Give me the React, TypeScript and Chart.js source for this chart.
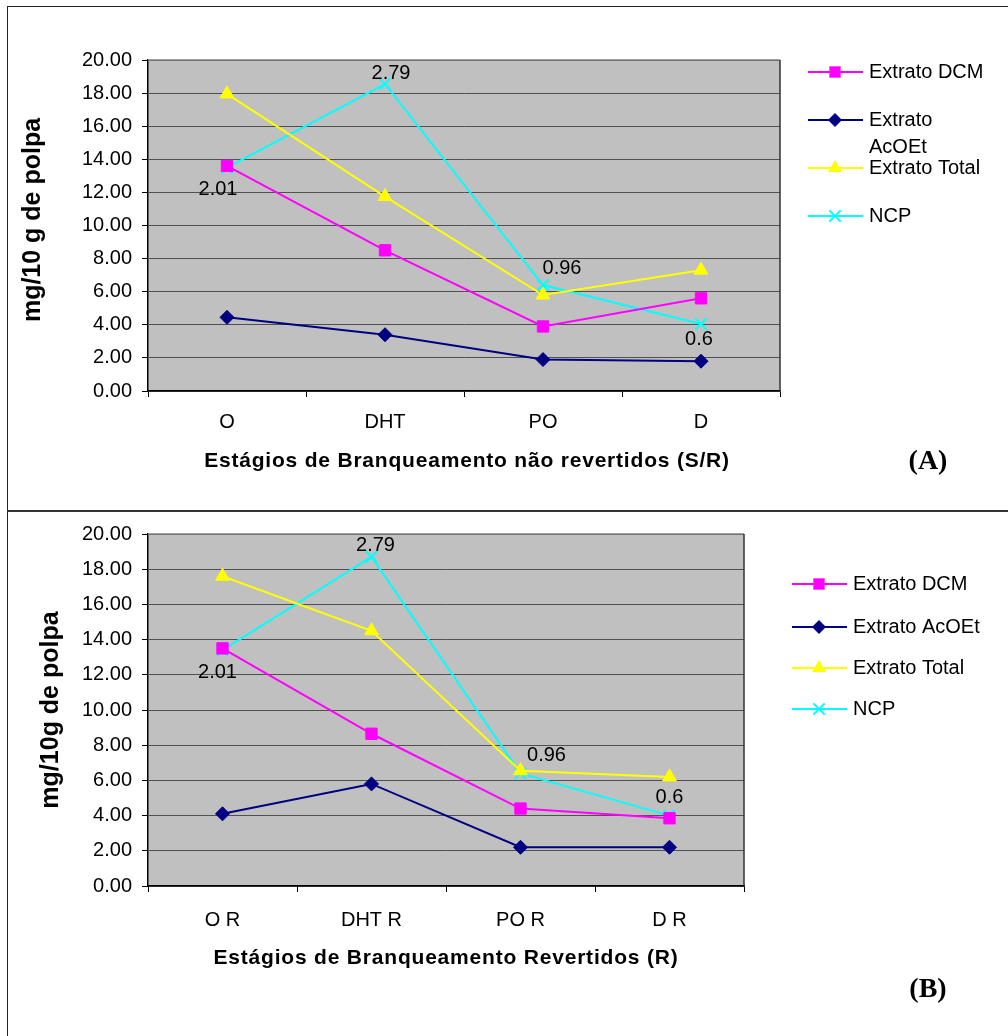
import { useEffect, useRef } from 'react';
import { Chart, registerables } from 'chart.js';

Chart.register(...registerables);

// ---- data ----
const seriesNames = ['Extrato DCM', 'Extrato AcOEt', 'Extrato Total', 'NCP'];
const seriesColors = ['#FF00FF', '#000080', '#FFFF00', '#00FFFF'];
const pointStyles = ['rect', 'rectRot', 'triangle', 'crossRot'];
const pointRadii = [8, 7, 8, 8];

const stagesA = ['O', 'DHT', 'PO', 'D'];
const dcmA = [13.6, 8.5, 3.9, 5.6];
const acoetA = [4.45, 3.4, 1.9, 1.8];
const totalA = [17.95, 11.75, 5.8, 7.3];
const ncpA = [13.5, 18.55, 6.4, 4.05];
const ncpNotesA = ['2.01', '2.79', '0.96', '0.6'];

const stagesB = ['O R', 'DHT R', 'PO R', 'D R'];
const dcmB = [13.5, 8.65, 4.4, 3.85];
const acoetB = [4.1, 5.8, 2.2, 2.2];
const totalB = [17.6, 14.5, 6.55, 6.2];
const ncpB = [13.4, 18.7, 6.4, 4.0];
const ncpNotesB = ['2.01', '2.79', '0.96', '0.6'];

const yMin = 0;
const yMax = 20;
const yStep = 2;

const W = 1008;
const FONT = '"Liberation Sans", Arial, sans-serif';
const SERIF = '"Liberation Serif", "Times New Roman", serif';

type PanelCfg = {
  top: number;
  height: number;
  stages: string[];
  series: number[][];
  notes: string[];
  noteOffsets: [number, number][];
  plot: { left: number; top: number; right: number; bottom: number };
  catPadding: number;
  xTitle: string;
  xTitleX: number;
  xTitleY: number;
  yTitle: string;
  yTitleX: number;
  yTitleY: number;
  tag: string;
  tagX: number;
  tagY: number;
  legend: { x1: number; x2: number; mx: number; tx: number; rows: number[]; wrap: number; lineGap: number };
};

function drawMarker(ctx: CanvasRenderingContext2D, style: string, x: number, y: number, r: number, color: string) {
  ctx.save();
  ctx.fillStyle = color;
  ctx.strokeStyle = color;
  ctx.lineWidth = 2;
  ctx.beginPath();
  if (style === 'rect') {
    const s = r * Math.SQRT1_2;
    ctx.rect(x - s, y - s, 2 * s, 2 * s);
    ctx.fill();
  } else if (style === 'rectRot') {
    ctx.moveTo(x, y - r);
    ctx.lineTo(x + r, y);
    ctx.lineTo(x, y + r);
    ctx.lineTo(x - r, y);
    ctx.closePath();
    ctx.fill();
  } else if (style === 'triangle') {
    const h = r * Math.sin(Math.PI / 3);
    ctx.moveTo(x, y - r);
    ctx.lineTo(x + h, y + r / 2);
    ctx.lineTo(x - h, y + r / 2);
    ctx.closePath();
    ctx.fill();
  } else {
    const s = r * Math.SQRT1_2;
    ctx.moveTo(x - s, y - s);
    ctx.lineTo(x + s, y + s);
    ctx.moveTo(x + s, y - s);
    ctx.lineTo(x - s, y + s);
    ctx.stroke();
  }
  ctx.restore();
}

function wrapText(ctx: CanvasRenderingContext2D, text: string, maxWidth: number): string[] {
  if (ctx.measureText(text).width <= maxWidth) return [text];
  const words = text.split(' ');
  const lines: string[] = [];
  let cur = '';
  for (const w of words) {
    const test = cur ? cur + ' ' + w : w;
    if (cur && ctx.measureText(test).width > maxWidth) {
      lines.push(cur);
      cur = w;
    } else cur = test;
  }
  if (cur) lines.push(cur);
  return lines;
}

const plotBackground = {
  id: 'plotBackground',
  beforeDraw(chart: any) {
    const { ctx, chartArea: a } = chart;
    ctx.save();
    ctx.fillStyle = '#C0C0C0';
    ctx.fillRect(a.left, a.top, a.right - a.left, a.bottom - a.top);
    ctx.restore();
  },
};

function overlay(cfg: PanelCfg) {
  return {
    id: 'overlay',
    afterDraw(chart: any) {
      const { ctx, chartArea: a } = chart;
      ctx.save();
      // plot frame: top and right edges
      ctx.lineWidth = 1.5;
      ctx.strokeStyle = '#808080';
      ctx.beginPath();
      ctx.moveTo(a.left, a.top);
      ctx.lineTo(a.right, a.top);
      ctx.stroke();
      ctx.strokeStyle = '#333';
      ctx.beginPath();
      ctx.moveTo(a.right, a.top);
      ctx.lineTo(a.right, a.bottom);
      ctx.stroke();

      // notes beside the NCP points
      const meta = chart.getDatasetMeta(3);
      ctx.fillStyle = '#000';
      ctx.font = `20px ${FONT}`;
      ctx.textAlign = 'center';
      ctx.textBaseline = 'middle';
      meta.data.forEach((pt: any, i: number) => {
        const [dx, dy] = cfg.noteOffsets[i];
        ctx.fillText(cfg.notes[i], pt.x + dx, pt.y + dy);
      });

      // legend
      const L = cfg.legend;
      ctx.textAlign = 'left';
      seriesNames.forEach((name, i) => {
        const y = L.rows[i];
        ctx.strokeStyle = seriesColors[i];
        ctx.lineWidth = 2;
        ctx.beginPath();
        ctx.moveTo(L.x1, y);
        ctx.lineTo(L.x2, y);
        ctx.stroke();
        drawMarker(ctx, pointStyles[i], L.mx, y, pointRadii[i], seriesColors[i]);
        ctx.fillStyle = '#000';
        ctx.font = `20px ${FONT}`;
        wrapText(ctx, name, L.wrap).forEach((line, k) => {
          ctx.fillText(line, L.tx, y + k * L.lineGap);
        });
      });

      // axis titles
      ctx.fillStyle = '#000';
      ctx.font = `bold 21px ${FONT}`;
      (ctx as any).letterSpacing = '0.8px';
      ctx.textAlign = 'center';
      ctx.fillText(cfg.xTitle, cfg.xTitleX, cfg.xTitleY);
      (ctx as any).letterSpacing = '0px';

      ctx.save();
      ctx.translate(cfg.yTitleX, cfg.yTitleY);
      ctx.rotate(-Math.PI / 2);
      ctx.font = `bold 25px ${FONT}`;
      ctx.fillText(cfg.yTitle, 0, 0);
      ctx.restore();

      // panel tag
      ctx.font = `bold 28px ${SERIF}`;
      ctx.fillText(cfg.tag, cfg.tagX, cfg.tagY);
      ctx.restore();
    },
  };
}

function Panel({ cfg }: { cfg: PanelCfg }) {
  const ref = useRef<HTMLCanvasElement>(null);
  useEffect(() => {
    const canvas = ref.current;
    if (!canvas) return;
    const chart = new Chart(canvas, {
      type: 'line',
      data: {
        labels: cfg.stages,
        datasets: cfg.series.map((vals, i) => ({
          label: seriesNames[i],
          data: vals,
          borderColor: seriesColors[i],
          backgroundColor: seriesColors[i],
          borderWidth: 2,
          pointStyle: pointStyles[i] as any,
          pointRadius: pointRadii[i],
          pointBorderWidth: i === 3 ? 2 : 1,
          pointBackgroundColor: seriesColors[i],
          pointBorderColor: seriesColors[i],
          tension: 0,
          fill: false,
        })),
      },
      options: {
        responsive: false,
        animation: false,
        devicePixelRatio: 1,
        layout: { padding: { left: 0, top: cfg.plot.top, right: W - cfg.plot.right, bottom: 0 } },
        plugins: {
          legend: { display: false },
          tooltip: { enabled: false },
          title: { display: false },
        },
        scales: {
          x: {
            type: 'category',
            offset: true,
            grid: {
              offset: true,
              drawOnChartArea: false,
              drawTicks: true,
              tickLength: 6,
              tickColor: '#000',
              lineWidth: 1,
            },
            border: { display: true, color: '#000', width: 1.5 },
            ticks: {
              color: '#000',
              font: { family: FONT, size: 20 },
              padding: cfg.catPadding,
              maxRotation: 0,
              autoSkip: false,
            },
            afterFit: (s: any) => {
              s.height = cfg.height - cfg.plot.bottom;
            },
          },
          y: {
            min: yMin,
            max: yMax,
            ticks: {
              stepSize: yStep,
              callback: (v: any) => Number(v).toFixed(2),
              color: '#000',
              font: { family: FONT, size: 20 },
              padding: 10,
            },
            grid: { color: '#505050', tickColor: '#000', tickLength: 6, lineWidth: 1 },
            border: { color: '#000', width: 1.5 },
            afterFit: (s: any) => {
              s.width = cfg.plot.left;
            },
          },
        },
      },
      plugins: [plotBackground, overlay(cfg)],
    });
    return () => chart.destroy();
  }, [cfg]);
  return (
    <canvas
      ref={ref}
      width={W}
      height={cfg.height}
      style={{ position: 'absolute', left: 0, top: cfg.top, width: W, height: cfg.height }}
    />
  );
}

const panelA: PanelCfg = {
  top: 0,
  height: 510,
  stages: stagesA,
  series: [dcmA, acoetA, totalA, ncpA],
  notes: ncpNotesA,
  noteOffsets: [[-9, 22], [6, -11], [19, -17], [-2, 16]],
  plot: { left: 148, top: 60, right: 780, bottom: 391 },
  catPadding: 13,
  xTitle: 'Estágios de Branqueamento não revertidos (S/R)',
  xTitleX: 467,
  xTitleY: 461,
  yTitle: 'mg/10 g de polpa',
  yTitleX: 33,
  yTitleY: 220,
  tag: '(A)',
  tagX: 928,
  tagY: 462,
  legend: { x1: 808, x2: 863, mx: 835, tx: 869, rows: [72, 120, 168, 216], wrap: 120, lineGap: 27 },
};

const panelB: PanelCfg = {
  top: 512,
  height: 524,
  stages: stagesB,
  series: [dcmB, acoetB, totalB, ncpB],
  notes: ncpNotesB,
  noteOffsets: [[-5, 22], [4, -11], [26, -18], [0, -18]],
  plot: { left: 148, top: 19, right: 744, bottom: 374 },
  catPadding: 16,
  xTitle: 'Estágios de Branqueamento Revertidos (R)',
  xTitleX: 446,
  xTitleY: 446,
  yTitle: 'mg/10g de polpa',
  yTitleX: 51,
  yTitleY: 198,
  tag: '(B)',
  tagX: 928,
  tagY: 478,
  legend: { x1: 792, x2: 847, mx: 819, tx: 853, rows: [72, 115, 156, 197], wrap: 1000, lineGap: 27 },
};

export default function App() {
  return (
    <div style={{ position: 'absolute', left: 0, top: 0, width: W, height: 1036, background: '#fff', overflow: 'hidden' }}>
      <Panel cfg={panelA} />
      <Panel cfg={panelB} />
      <div style={{ position: 'absolute', left: 7, top: 6, width: W - 7, height: 1, background: '#222' }} />
      <div style={{ position: 'absolute', left: 7, top: 6, width: 1, height: 1030, background: '#222' }} />
      <div style={{ position: 'absolute', left: 7, top: 510, width: W - 7, height: 2, background: '#333' }} />
    </div>
  );
}
